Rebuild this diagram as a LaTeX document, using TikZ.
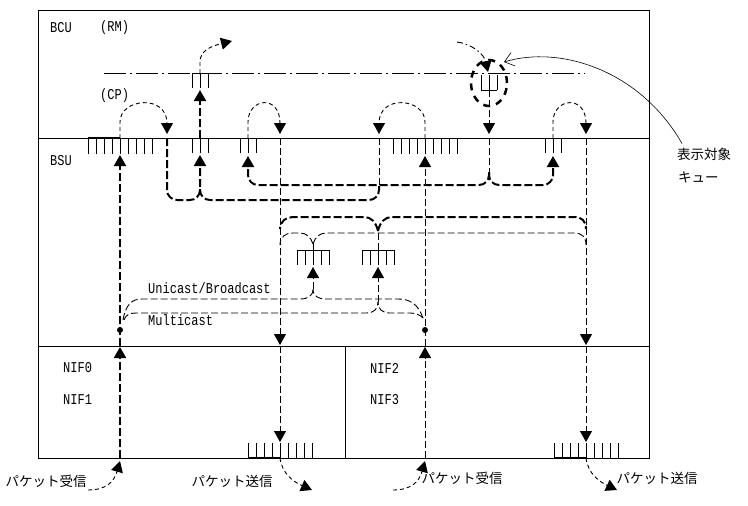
\documentclass[tikz,border=0pt]{standalone}
\usepackage{fontspec}
\usepackage{tikz}
\setmonofont{Liberation Mono}
\newfontfamily\jp{Noto Sans CJK JP}
\usetikzlibrary{arrows.meta,calc}
\newcommand{\nar}[1]{\scalebox{0.8}[1]{#1}}
\tikzset{wall/.style={
    line width=0.9pt}}
\tikzset{thinflow/.style={
    line width=0.9pt,
    dash pattern=on 7pt off 3pt}}
\tikzset{thickflow/.style={
    line width=2pt,
    dash pattern=on 8pt off 3pt}}
\tikzset{arcflow/.style={
    line width=0.9pt,
    dash pattern=on 4pt off 3pt}}
\tikzset{rmline/.style={
    line width=0.9pt,
    dash pattern=on 22pt off 4pt on 2pt off 4pt}}
\tikzset{rmarc/.style={
    line width=0.9pt,
    dash pattern=on 6pt off 3pt on 1.5pt off 3pt}}
\tikzset{fwd/.style={
    -{Triangle[width=12pt,length=11pt]}}}
\tikzset{lbl/.style={
    font=\ttfamily\fontsize{15}{16}\selectfont,
    inner sep=0,
    anchor=west}}
\tikzset{jlbl/.style={
    font=\jp\fontsize{13.5}{15}\selectfont,
    inner sep=0}}

\begin{document}
\begin{tikzpicture}[x=1pt, y=-1pt]
  \useasboundingbox (0,0) rectangle (748,506);

  % units
  \draw[wall] (38,10) rectangle (649,458);
  \draw[wall] (38,138) -- (649,138);
  \draw[wall] (38,346) -- (649,346);
  \draw[wall] (345,346) -- (345,458);

  \node[lbl] (bcu) at (50,28) {\nar{BCU}};
  \node[lbl] (rm) at (100,28) {\nar{(RM)}};
  \node[lbl] (cp) at (100,96) {\nar{(CP)}};
  \node[lbl] (bsu) at (50,161) {\nar{BSU}};
  \node[lbl] (nif0) at (63,368) {\nar{NIF0}};
  \node[lbl] (nif1) at (63,400) {\nar{NIF1}};
  \node[lbl] (nif2) at (370,368) {\nar{NIF2}};
  \node[lbl] (nif3) at (370,400) {\nar{NIF3}};
  \node[lbl] (uni) at (148,288) {\nar{Unicast/Broadcast}};
  \node[lbl] (mul) at (148,320) {\nar{Multicast}};

  \node[jlbl] (rx0) at (46,481) {パケット受信};
  \node[jlbl] (tx0) at (232,481) {パケット送信};
  \node[jlbl] (rx2) at (462,478) {パケット受信};
  \node[jlbl] (tx2) at (657,478) {パケット送信};
  \node[jlbl, anchor=west] (tgt1) at (677,154) {表示対象};
  \node[jlbl, anchor=west] (tgt2) at (678,177) {キュー};

  % queues
  \coordinate (qin0) at (120,138);
  \coordinate (qcp0) at (200,138);
  \coordinate (qcp1) at (248,138);
  \coordinate (qin2) at (425,138);
  \coordinate (qcp2) at (553,138);
  \coordinate (qrm0) at (200,73);
  \coordinate (qrm1) at (489,90);
  \coordinate (quni) at (313,250);
  \coordinate (qmul) at (378,250);
  \coordinate (qout0) at (280,458);
  \coordinate (qout2) at (586,458);
  \coordinate (jin0) at (120,330);
  \coordinate (jin2) at (425,330);

  \foreach \i in {-4,...,4} {
    \draw[wall] ($(qin0)+(8*\i,0)$) -- ++(0,16);
    \draw[wall] ($(qin2)+(8*\i,0)$) -- ++(0,16);
    \draw[wall] ($(qout0)+(8*\i,0)$) -- ++(0,-15);
    \draw[wall] ($(qout2)+(8*\i,0)$) -- ++(0,-15);
  }
  \foreach \q in {qcp0,qcp1,qcp2,qrm0} {
    \foreach \i in {-1,0,1}
      \draw[wall] ($(\q)+(8*\i,0)$) -- ++(0,15);
  }
  \foreach \q in {quni,qmul} {
    \foreach \i in {-2,...,2}
      \draw[wall] ($(\q)+(8*\i,0)$) -- ++(0,15);
    \draw[wall] ($(\q)+(-16,0)$) -- ++(32,0);
  }
  \foreach \i in {-1,0,1}
    \draw[wall] ($(qrm1)+(8*\i,0)$) -- ++(0,-15);
  \draw[wall] ($(qrm1)+(-8,0)$) -- ++(16,0);
  \draw[wall] ($(qrm0)+(-8,0)$) -- ++(16,0);
  \draw[line width=2pt] ($(qin0)+(-32,-0.5)$) -- ++(32,0);
  \draw[line width=2pt] ($(qout0)+(-32,0)$) -- ++(32,0);
  \draw[line width=2pt] ($(qout2)+(-32,0)$) -- ++(32,0);

  \draw[rmline] (104,73) -- (585,73);
  \draw[line width=2.5pt,
    dash pattern=on 7pt off 6pt] (489,83) ellipse [x radius=18pt, y radius=23pt];

  % NIF0 in
  \draw[arcflow, fwd] (88,490) .. controls (106,490) and (114,482) .. (120,461);
  \draw[thickflow, fwd] (qin0 |- qout0) -- (120,347);
  \draw[thickflow, fwd] (120,346) -- (120,155);
  \fill (jin0) circle (3pt);
  \draw[arcflow, fwd] (qin0) -- (120,122) .. controls (120,98) and (167,94) .. (167,134);
  \draw[thickflow, fwd, rounded corners=10pt] (167,138) -- (167,200) -- (200,200) -- (200,155);
  \draw[thickflow, fwd] (qcp0) -- (200,90);
  \draw[arcflow, fwd] (qrm0) -- (200,62) .. controls (200,50) and (212,46) .. (232,41);

  % NIF2 in
  \draw[arcflow, fwd] (393,490) .. controls (411,490) and (419,482) .. (425,461);
  \draw[thinflow, fwd] (qin2 |- qout2) -- (425,347);
  \draw[thinflow, fwd] (425,346) -- (425,156);
  \fill (jin2) circle (3pt);
  \draw[arcflow, fwd] (qin2) -- (425,122) .. controls (425,98) and (379,94) .. (379,134);
  \draw[thinflow] (379,138) -- (379,186);
  \draw[thickflow, rounded corners=10pt] (379,186) -- (379,200) -- (200,200) -- (200,189);

  % RM out
  \draw[rmarc, fwd] (457,42) .. controls (472,44) and (484,54) .. (488,72);
  \draw[thinflow, fwd] (qrm1) -- (489,134);
  \draw[thinflow] (489,138) -- (489,172);
  \draw[thickflow, fwd, rounded corners=10pt] (489,172) -- (489,185) -- (248,185) -- (248,156);
  \draw[thickflow, fwd, rounded corners=10pt] (489,172) -- (489,185) -- (553,185) -- (553,156);
  \draw[arcflow, fwd] (qcp1) -- (248,122) .. controls (248,98) and (280,94) .. (280,134);
  \draw[arcflow, fwd] (qcp2) -- (553,122) .. controls (553,98) and (586,94) .. (586,134);

  % NIF outputs
  \draw[thinflow, fwd] (280,138) -- (280,345);
  \draw[thinflow, fwd] (280,346) -- (280,442);
  \draw[arcflow, fwd] (qout0) .. controls (282,474) and (294,482) .. (312,490);
  \draw[thinflow, fwd] (586,138) -- (586,345);
  \draw[thinflow, fwd] (586,346) -- (586,442);
  \draw[arcflow, fwd] (qout2) .. controls (588,474) and (600,482) .. (617,490);

  % buses
  \draw[thinflow] (123,320) .. controls (126,304) and (132,299) .. (142,299)
    -- (300,299) .. controls (308,299) and (313,296) .. (313,289);
  \draw[thinflow] (423,318) .. controls (418,304) and (410,299) .. (398,299)
    -- (326,299) .. controls (318,299) and (313,296) .. (313,289);
  \draw[thinflow, fwd] (313,289) -- (313,267);
  \draw[thinflow] (124,320) .. controls (126,315) and (129,313) .. (136,313)
    -- (366,313) .. controls (374,313) and (378,309) .. (378,302);
  \draw[thinflow] (423,318) .. controls (420,315) and (416,313) .. (410,313)
    -- (390,313) .. controls (382,313) and (378,309) .. (378,302);
  \draw[thinflow, fwd] (378,302) -- (378,267);

  \draw[thinflow] (quni) -- (313,244);
  \draw[thinflow] (313,244) .. controls (311,237) and (306,233) .. (300,233)
    -- (293,233) .. controls (285,233) and (280,237) .. (280,245);
  \draw[thinflow] (313,244) .. controls (315,237) and (320,233) .. (326,233)
    -- (574,233) .. controls (582,233) and (586,237) .. (586,245);
  \draw[thinflow] (qmul) -- (378,231);
  \draw[thickflow] (378,231) .. controls (376,222) and (371,217) .. (364,217)
    -- (295,217) .. controls (286,217) and (280,221) .. (280,229);
  \draw[thickflow] (378,231) .. controls (380,222) and (385,217) .. (392,217)
    -- (574,217) .. controls (582,217) and (586,221) .. (586,229);

  % pointer
  \draw[line width=0.6pt,
    -{Straight Barb[length=9pt,width=14pt]}] ($(tgt1.north west)+(5,-4)$) .. controls (640,70) and (560,45) .. (504,62);
\end{tikzpicture}
\end{document}
